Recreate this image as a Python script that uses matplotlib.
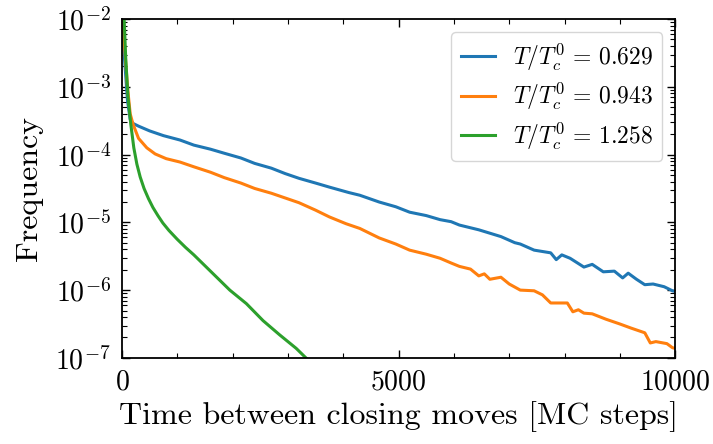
import numpy as np
import matplotlib
matplotlib.use("Agg")
import matplotlib.pyplot as plt
from matplotlib.ticker import MultipleLocator, LogLocator, NullFormatter

plt.rcParams['font.family'] = 'serif'
plt.rcParams['font.serif'] = ['cmr10']
plt.rcParams['mathtext.fontset'] = 'cm'
plt.rcParams['axes.formatter.use_mathtext'] = True

# log10(frequency)
t_low = [0, 40, 100, 150, 200, 300, 500, 750, 1050, 1300, 1600, 1850, 2150, 2400,
         2700, 2950, 3200, 3500, 3750, 4100, 4300, 4650, 4950, 5200, 5500, 5750,
         5950, 6100, 6300, 6450, 6650, 6850, 7100, 7200, 7450, 7750, 7850, 7950,
         8100, 8350, 8500, 8700, 8900, 9050, 9150, 9300, 9450, 9600, 9800, 9950, 10000]
logf_low = [-1.9, -2.5, -3.2, -3.48, -3.54, -3.58, -3.65, -3.72, -3.785, -3.86, -3.92,
            -3.98, -4.05, -4.13, -4.20, -4.28, -4.35, -4.42, -4.48, -4.56, -4.60, -4.70,
            -4.77, -4.85, -4.90, -4.96, -4.99, -5.04, -5.08, -5.11, -5.16, -5.21, -5.30,
            -5.32, -5.41, -5.45, -5.55, -5.48, -5.53, -5.66, -5.62, -5.73, -5.72, -5.82,
            -5.75, -5.84, -5.92, -5.91, -5.95, -6.01, -6.02]

t_mid = [0, 40, 100, 150, 200, 300, 450, 600, 800, 1050, 1300, 1600, 1850, 2150, 2400,
         2700, 2950, 3200, 3500, 3750, 4050, 4300, 4650, 4950, 5200, 5500, 5750, 5950,
         6100, 6300, 6450, 6550, 6650, 6850, 7000, 7200, 7450, 7600, 7750, 8050, 8150,
         8250, 8350, 8500, 8750, 9000, 9200, 9450, 9550, 9650, 9850, 9950, 10000]
logf_mid = [-1.8, -2.3, -3.0, -3.4, -3.55, -3.76, -3.90, -3.99, -4.06, -4.11, -4.18,
            -4.26, -4.34, -4.42, -4.50, -4.57, -4.64, -4.71, -4.82, -4.92, -5.02, -5.09,
            -5.23, -5.32, -5.41, -5.47, -5.53, -5.60, -5.65, -5.69, -5.79, -5.76, -5.84,
            -5.81, -5.91, -6.00, -6.01, -6.07, -6.19, -6.19, -6.32, -6.29, -6.34, -6.35,
            -6.43, -6.50, -6.56, -6.63, -6.78, -6.76, -6.79, -6.85, -6.86]

t_high = [0, 40, 70, 110, 160, 215, 270, 330, 400, 480, 560, 650, 740, 850, 1000,
          1150, 1300, 1500, 1700, 1950, 2250, 2550, 2850, 3150, 3350, 3500]
logf_high = [-1.7, -2.0, -2.6, -3.15, -3.55, -3.90, -4.14, -4.33, -4.50, -4.65, -4.78,
             -4.90, -5.01, -5.12, -5.25, -5.37, -5.48, -5.64, -5.80, -6.0, -6.20,
             -6.45, -6.66, -6.86, -7.02, -7.14]

labels = [r'$T/T_c^0\,=\,0.629$', r'$T/T_c^0\,=\,0.943$', r'$T/T_c^0\,=\,1.258$']

fig = plt.figure(figsize=(7.13, 4.44), dpi=100)
ax = fig.add_axes([0.171, 0.194, 0.776, 0.763])

for t, lf, lab in zip([t_low, t_mid, t_high], [logf_low, logf_mid, logf_high], labels):
    ax.plot(t, 10.0 ** np.array(lf), lw=2.2, label=lab)

ax.set_yscale('log')
ax.set_xlim(0, 10000)
ax.set_ylim(1e-7, 1e-2)
ax.xaxis.set_major_locator(MultipleLocator(5000))
ax.xaxis.set_minor_locator(MultipleLocator(1000))
ax.yaxis.set_major_locator(LogLocator(base=10, numticks=10))
ax.yaxis.set_minor_locator(LogLocator(base=10, subs=np.arange(2, 10), numticks=20))
ax.yaxis.set_minor_formatter(NullFormatter())

ax.tick_params(which='both', direction='in', top=True, right=True, labelsize=20)
ax.tick_params(which='major', length=6, width=1.0, pad=8)
ax.tick_params(which='minor', length=3.5, width=0.8)
for s in ax.spines.values():
    s.set_linewidth(1.3)

ax.set_xlabel('Time between closing moves [MC steps]', fontsize=23, labelpad=4)
ax.set_ylabel('Frequency', fontsize=23, labelpad=9)
ax.legend(loc='upper right', fontsize=17, handlelength=1.45, handletextpad=0.75,
          framealpha=0.8, labelspacing=0.35, borderaxespad=0.55)

fig.savefig('out.png', dpi=100)
